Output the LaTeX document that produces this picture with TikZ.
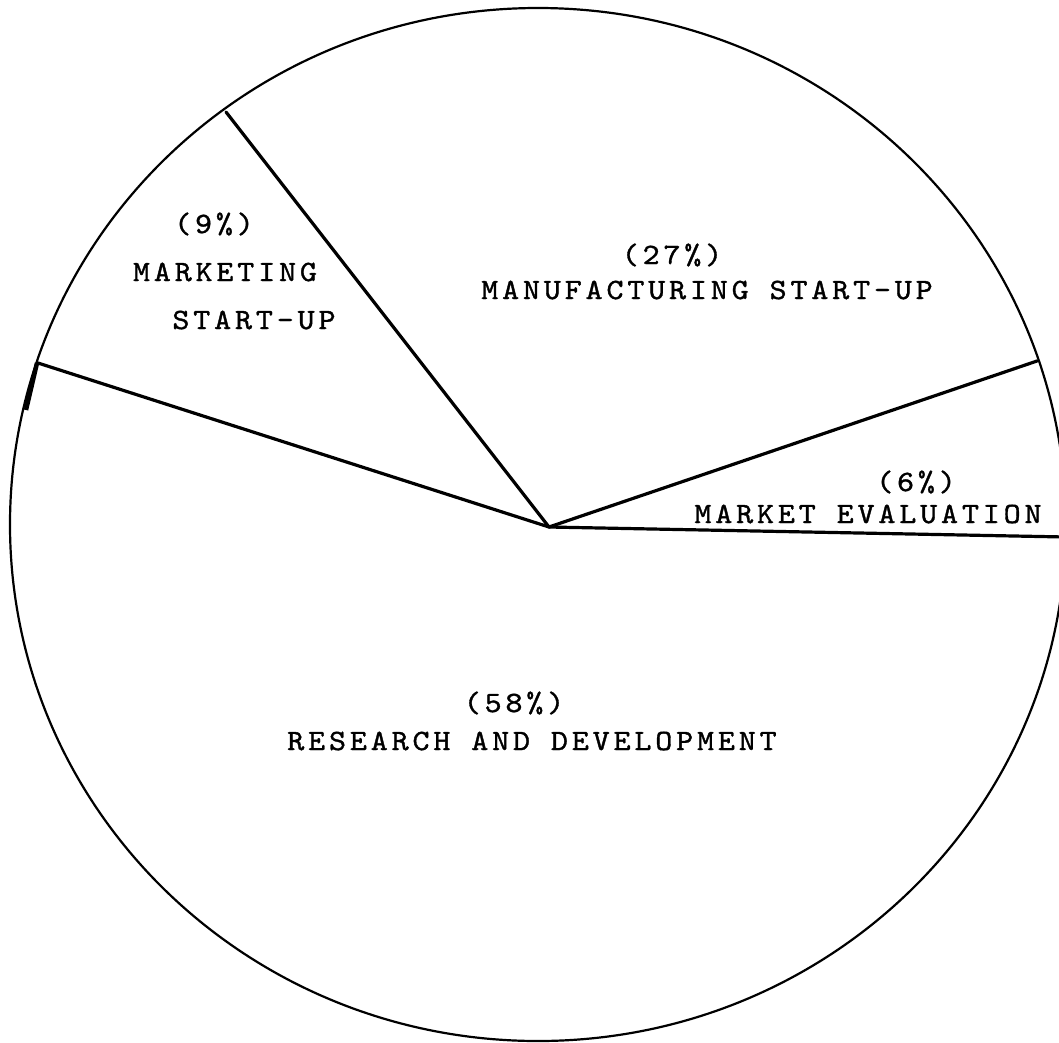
\documentclass[tikz,border=0pt]{standalone}
\usepackage{fontspec}
\newfontfamily\typewriter[LetterSpace=13,FakeStretch=1.1,FakeBold=1.2]{lmmono10-regular.otf}
\tikzset{
  rim/.style={line width=2.2pt},
  spoke/.style={line width=3.2pt, line cap=round},
  lbl/.style={font=\typewriter\fontsize{29.5}{30}\selectfont, inner sep=0pt},
}
\begin{document}
\begin{tikzpicture}[x=1pt,y=-1pt]
  \path[use as bounding box, clip] (0,0) rectangle (1059,1042);
  \fill[white] (0,0) rectangle (1059,1042);
  \draw[rim] (538,524.5) ellipse [x radius=528, y radius=516.5];
  \draw[line width=4.5pt] (37,363) -- (26,410);
  \path
    (549,527) coordinate (ctr)
    (1066,537) coordinate (eval)
    (1037,361) coordinate (manu)
    (226,112) coordinate (mkt)
    (38,363) coordinate (rnd);
  \begin{scope}[spoke]
    \draw (ctr) to (eval);
    \draw (ctr) to (manu);
    \draw (ctr) to (mkt);
    \draw (ctr) to (rnd);
  \end{scope}
  \node[lbl] (p27) at (672,255) {(27\%)};
  \node[lbl] (t27) at (707,290) {MANUFACTURING START-UP};
  \node[lbl] (p9) at (214,224) {(9\%)};
  \node[lbl] (t9a) at (225,272) {MARKETING};
  \node[lbl] (t9b) at (254,320) {START-UP};
  \node[lbl] (p6) at (916,482) {(6\%)};
  \node[lbl] (t6) at (868,514) {MARKET EVALUATION};
  \node[lbl] (p58) at (514,703) {(58\%)};
  \node[lbl] (t58) at (532,741) {RESEARCH AND DEVELOPMENT};
\end{tikzpicture}
\end{document}
